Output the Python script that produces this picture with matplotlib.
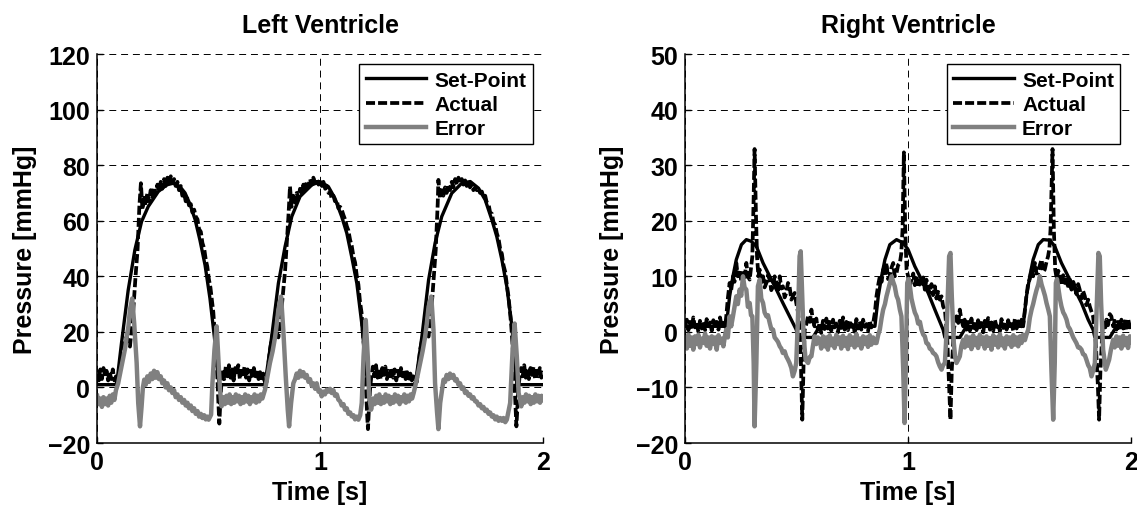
import numpy as np
from matplotlib import pyplot as plt

plt.rcParams['font.family'] = ['Liberation Sans', 'DejaVu Sans']
plt.rcParams['font.weight'] = 'bold'
plt.rcParams['lines.scale_dashes'] = False

# time [s], pressure [mmHg]
lv_setpoint = [
    (0.000, 1.0), (0.087, 1.0), (0.109, 16.0), (0.139, 35.0), (0.169, 49.5), (0.199, 59.7), (0.229, 65.1),
    (0.274, 70.5), (0.312, 72.9), (0.341, 73.5), (0.371, 72.3), (0.394, 70.0), (0.416, 66.0), (0.439, 60.5),
    (0.461, 53.0), (0.484, 44.0), (0.506, 32.0), (0.526, 18.0), (0.539, 7.0), (0.547, 1.0),
    (0.753, 1.0), (0.783, 18.3), (0.813, 37.5), (0.843, 50.7), (0.873, 61.5), (0.910, 68.7), (0.963, 72.9),
    (1.000, 74.1), (1.037, 72.3), (1.067, 68.0), (1.097, 61.5), (1.120, 55.5), (1.142, 47.0), (1.165, 37.5),
    (1.187, 23.1), (1.202, 10.0), (1.214, 1.0),
    (1.427, 1.0), (1.457, 18.3), (1.487, 38.7), (1.516, 51.9), (1.546, 61.5), (1.591, 69.9), (1.636, 73.5),
    (1.674, 74.1), (1.711, 71.7), (1.741, 67.5), (1.771, 60.3), (1.793, 54.3), (1.816, 45.9), (1.838, 36.3),
    (1.861, 21.9), (1.873, 10.0), (1.883, 1.0), (2.000, 1.0),
]

lv_actual = [
    (0.000, 5.0), (0.007, 2.5), (0.014, 6.5), (0.021, 3.0), (0.028, 7.0), (0.035, 4.0), (0.042, 6.0),
    (0.049, 2.5), (0.056, 5.5), (0.063, 3.0), (0.070, 6.5), (0.077, 2.5), (0.084, 4.0), (0.090, 1.5),
    (0.100, 6.0), (0.109, 11.0), (0.120, 15.0), (0.132, 18.3), (0.140, 16.0), (0.147, 14.7), (0.155, 22.0),
    (0.162, 28.0), (0.172, 40.0), (0.181, 49.5), (0.189, 65.0), (0.196, 73.5),
    (0.203, 64.0), (0.210, 69.0), (0.217, 65.5), (0.225, 70.0), (0.232, 67.0), (0.240, 71.0), (0.247, 68.5),
    (0.255, 72.0), (0.262, 69.5), (0.270, 73.0), (0.277, 70.5), (0.285, 74.0), (0.292, 71.5), (0.300, 75.0),
    (0.307, 72.5), (0.315, 75.5), (0.322, 73.0), (0.330, 76.0), (0.337, 73.5), (0.345, 75.0), (0.352, 72.5),
    (0.360, 74.0), (0.367, 71.0), (0.375, 72.5), (0.382, 69.0), (0.390, 70.0), (0.397, 67.0), (0.405, 68.0),
    (0.412, 65.5), (0.420, 66.0), (0.427, 63.0), (0.435, 64.0), (0.442, 61.5), (0.450, 60.5), (0.457, 57.0),
    (0.465, 56.0), (0.472, 52.0), (0.480, 50.0), (0.487, 46.0), (0.494, 43.5), (0.501, 39.0), (0.508, 36.0),
    (0.515, 31.0), (0.521, 27.0), (0.527, 20.0), (0.533, 13.0), (0.539, 4.0), (0.544, -6.0), (0.548, -13.0),
    (0.552, -6.0), (0.557, 1.0), (0.563, 6.5),
    (0.570, 3.0), (0.577, 7.5), (0.584, 4.0), (0.591, 8.0), (0.598, 3.5), (0.605, 6.5), (0.612, 2.5),
    (0.619, 7.0), (0.626, 4.5), (0.633, 8.0), (0.640, 3.0), (0.647, 6.0), (0.654, 4.0), (0.661, 7.5),
    (0.668, 3.5), (0.675, 6.5), (0.682, 2.5), (0.689, 6.0), (0.696, 3.5), (0.703, 7.0), (0.710, 4.0),
    (0.717, 6.5), (0.724, 3.0), (0.731, 5.5), (0.738, 2.5), (0.745, 5.0), (0.752, 2.0), (0.760, 2.0),
    (0.768, 8.0), (0.775, 13.5), (0.787, 19.0), (0.798, 23.0), (0.806, 20.0), (0.813, 18.0), (0.820, 23.0),
    (0.828, 29.0), (0.843, 42.0), (0.858, 61.5), (0.865, 72.3),
    (0.872, 65.0), (0.880, 69.0), (0.888, 66.5), (0.895, 70.0), (0.903, 68.0), (0.910, 71.5), (0.918, 69.5),
    (0.925, 73.0), (0.933, 71.0), (0.940, 74.0), (0.948, 72.0), (0.955, 75.0), (0.963, 73.0), (0.970, 75.5),
    (0.978, 73.5), (0.985, 75.0), (0.993, 73.0), (1.000, 74.5), (1.008, 72.5), (1.015, 74.0), (1.023, 71.5),
    (1.030, 72.5), (1.038, 70.0), (1.045, 70.5), (1.052, 68.0), (1.060, 69.0), (1.067, 67.0), (1.075, 67.5),
    (1.082, 64.5), (1.090, 65.0), (1.097, 64.0), (1.105, 62.0), (1.112, 60.5), (1.120, 58.0), (1.127, 56.5),
    (1.135, 53.0), (1.142, 51.0), (1.150, 47.0), (1.157, 45.0), (1.165, 40.0), (1.172, 37.0), (1.179, 31.0),
    (1.186, 27.0), (1.192, 20.0), (1.198, 13.0), (1.203, 5.0), (1.208, -4.0), (1.212, -11.0), (1.215, -15.0),
    (1.219, -8.0), (1.224, -1.0), (1.230, 4.0),
    (1.237, 7.5), (1.244, 4.0), (1.251, 8.0), (1.258, 3.5), (1.265, 6.5), (1.272, 3.0), (1.279, 7.0),
    (1.286, 4.5), (1.293, 7.5), (1.300, 3.0), (1.307, 6.0), (1.314, 4.0), (1.321, 7.0), (1.328, 3.5),
    (1.335, 6.5), (1.342, 2.5), (1.349, 6.0), (1.356, 3.5), (1.363, 7.0), (1.370, 4.0), (1.377, 6.5),
    (1.384, 3.0), (1.391, 5.5), (1.398, 2.5), (1.405, 5.0), (1.412, 2.5), (1.419, 4.0), (1.427, 1.5),
    (1.434, 2.0), (1.442, 8.0), (1.449, 13.5), (1.460, 18.0), (1.471, 20.7), (1.479, 19.5), (1.487, 18.3),
    (1.495, 25.0), (1.504, 32.7), (1.519, 49.5), (1.528, 66.3), (1.531, 74.7),
    (1.538, 68.0), (1.546, 71.0), (1.553, 69.0), (1.561, 72.0), (1.568, 70.0), (1.576, 73.0), (1.583, 71.0),
    (1.591, 74.0), (1.598, 72.0), (1.606, 75.0), (1.613, 73.0), (1.621, 75.5), (1.628, 73.5), (1.636, 75.0),
    (1.643, 73.0), (1.651, 74.5), (1.658, 72.5), (1.666, 74.0), (1.673, 72.0), (1.681, 73.0), (1.688, 71.0),
    (1.696, 72.0), (1.703, 71.0), (1.711, 71.5), (1.718, 70.0), (1.726, 70.5), (1.733, 68.5), (1.741, 69.0),
    (1.748, 66.5), (1.756, 66.0), (1.763, 63.0), (1.771, 62.5), (1.778, 59.5), (1.786, 58.5), (1.793, 55.5),
    (1.801, 53.5), (1.808, 50.0), (1.816, 48.0), (1.823, 44.0), (1.831, 41.5), (1.838, 37.0), (1.845, 33.0),
    (1.852, 27.5), (1.858, 22.0), (1.864, 15.0), (1.869, 8.0), (1.874, -1.0), (1.878, -9.0), (1.881, -14.0),
    (1.885, -8.0), (1.889, -1.0), (1.895, 3.5),
    (1.902, 7.0), (1.909, 4.0), (1.916, 8.0), (1.923, 3.5), (1.930, 6.5), (1.937, 3.0), (1.944, 7.0),
    (1.951, 4.5), (1.958, 7.5), (1.965, 3.0), (1.972, 6.0), (1.979, 4.0), (1.986, 7.0), (1.993, 3.5),
    (2.000, 6.0),
]

lv_error = [
    (0.000, -3.0), (0.007, -6.0), (0.014, -4.0), (0.021, -7.0), (0.028, -3.5), (0.035, -6.0), (0.042, -4.0),
    (0.049, -6.5), (0.056, -3.0), (0.063, -5.5), (0.070, -2.5), (0.077, -4.5), (0.084, -1.0), (0.094, 1.5),
    (0.105, 6.0), (0.117, 11.0), (0.125, 14.0), (0.132, 18.0), (0.140, 22.0), (0.147, 28.0), (0.157, 32.0),
    (0.166, 23.0), (0.177, 8.8), (0.184, -5.6), (0.192, -14.0), (0.199, -7.0), (0.205, 0.0), (0.211, 2.8),
    (0.218, 1.0), (0.225, 4.0), (0.232, 2.0), (0.240, 5.0), (0.247, 3.0), (0.255, 6.0), (0.262, 3.5),
    (0.270, 5.5), (0.277, 3.0), (0.285, 4.0), (0.292, 1.5), (0.300, 2.5), (0.307, 0.0), (0.315, 1.5),
    (0.322, -1.0), (0.330, 0.0), (0.337, -2.0), (0.345, -1.0), (0.352, -3.5), (0.360, -2.5), (0.367, -4.5),
    (0.375, -3.5), (0.382, -5.5), (0.390, -4.5), (0.397, -6.5), (0.405, -5.5), (0.412, -7.5), (0.420, -6.5),
    (0.427, -8.5), (0.435, -7.5), (0.442, -9.5), (0.450, -8.5), (0.457, -10.5), (0.465, -9.5), (0.472, -11.0),
    (0.480, -10.0), (0.487, -11.5), (0.494, -10.5), (0.500, -11.6), (0.511, -9.8), (0.517, 1.5), (0.526, 13.5),
    (0.536, 22.0), (0.543, 11.0), (0.551, -0.8), (0.558, -6.8), (0.565, -3.5),
    (0.573, -6.0), (0.580, -3.0), (0.587, -5.5), (0.594, -2.5), (0.601, -6.0), (0.608, -3.5), (0.615, -5.5),
    (0.622, -2.5), (0.629, -5.0), (0.636, -3.0), (0.643, -6.0), (0.650, -3.5), (0.657, -5.5), (0.664, -2.5),
    (0.671, -5.0), (0.678, -3.0), (0.685, -6.0), (0.692, -3.5), (0.699, -5.0), (0.706, -2.5), (0.713, -5.5),
    (0.720, -3.0), (0.727, -5.0), (0.734, -2.5), (0.741, -4.0), (0.753, -0.8), (0.764, 4.0), (0.775, 8.8),
    (0.787, 13.0), (0.798, 18.0), (0.806, 23.0), (0.813, 28.0), (0.825, 32.7), (0.835, 20.7), (0.846, 4.0),
    (0.855, -8.0), (0.861, -14.0), (0.870, -5.6), (0.880, 1.5), (0.888, 3.0), (0.895, 5.0), (0.903, 3.5),
    (0.910, 6.0), (0.918, 4.0), (0.925, 5.5), (0.933, 3.5), (0.940, 4.5), (0.948, 2.0), (0.955, 3.0),
    (0.963, 0.5), (0.970, 1.5), (0.978, -0.5), (0.985, 1.5), (0.993, -1.5), (1.000, -1.0), (1.007, -3.2),
    (1.015, -1.5), (1.022, -2.5), (1.030, -0.8), (1.037, -1.5), (1.045, -0.5), (1.052, -2.0), (1.060, -1.0),
    (1.067, -3.0), (1.075, -2.5), (1.082, -4.4), (1.090, -5.0), (1.097, -6.5), (1.105, -6.0), (1.112, -8.0),
    (1.120, -7.5), (1.127, -9.5), (1.135, -9.0), (1.142, -10.4), (1.150, -10.0), (1.157, -11.5),
    (1.165, -10.5), (1.172, -11.6), (1.180, -10.0), (1.187, -5.6), (1.195, 11.0), (1.205, 24.3),
    (1.214, 11.0), (1.220, -3.2), (1.229, -8.0), (1.238, -4.0),
    (1.245, -6.0), (1.252, -3.0), (1.259, -5.5), (1.266, -2.5), (1.273, -6.0), (1.280, -3.5), (1.287, -5.5),
    (1.294, -2.5), (1.301, -5.0), (1.308, -3.0), (1.315, -6.0), (1.322, -3.5), (1.329, -5.5), (1.336, -2.5),
    (1.343, -5.0), (1.350, -3.0), (1.357, -6.0), (1.364, -3.5), (1.371, -5.0), (1.378, -2.5), (1.385, -5.5),
    (1.392, -3.0), (1.399, -5.0), (1.406, -2.5), (1.413, -4.0), (1.420, -2.0), (1.427, 0.4), (1.438, 4.5),
    (1.449, 8.8), (1.460, 13.0), (1.471, 18.0), (1.479, 23.0), (1.487, 29.0), (1.499, 32.7), (1.509, 20.7),
    (1.516, 1.5), (1.525, -9.0), (1.531, -15.0), (1.539, -5.6), (1.554, 2.8), (1.561, 2.0), (1.568, 4.5),
    (1.576, 3.0), (1.583, 5.0), (1.591, 3.5), (1.598, 4.5), (1.606, 2.5), (1.613, 3.0), (1.621, 1.0),
    (1.628, 1.5), (1.636, -0.5), (1.643, 0.0), (1.651, -2.0), (1.658, -1.5), (1.666, -3.0), (1.673, -2.5),
    (1.681, -4.0), (1.688, -3.5), (1.696, -5.0), (1.703, -5.0), (1.711, -6.5), (1.718, -6.0), (1.726, -7.5),
    (1.733, -7.0), (1.741, -8.5), (1.748, -8.0), (1.756, -9.5), (1.763, -9.0), (1.771, -10.5),
    (1.778, -10.0), (1.786, -11.5), (1.793, -10.5), (1.801, -12.0), (1.808, -11.0), (1.816, -12.0),
    (1.823, -11.0), (1.831, -12.5), (1.838, -11.6), (1.853, -5.6), (1.864, 13.5), (1.873, 23.0),
    (1.883, 11.0), (1.891, -2.0), (1.903, -6.8), (1.910, -3.5),
    (1.917, -5.5), (1.924, -2.5), (1.931, -5.0), (1.938, -3.0), (1.945, -6.0), (1.952, -3.5), (1.959, -5.5),
    (1.966, -2.5), (1.973, -5.0), (1.980, -3.0), (1.987, -5.5), (1.994, -3.0), (2.000, -4.5),
]

rv_setpoint = [
    (0.000, 1.0), (0.185, 1.0), (0.200, 6.4), (0.215, 10.0), (0.230, 13.0), (0.253, 15.7), (0.275, 16.6),
    (0.297, 16.3), (0.320, 15.4), (0.350, 12.4), (0.380, 10.0), (0.410, 7.6), (0.439, 5.2), (0.469, 2.8),
    (0.499, 0.4), (0.507, -1.0), (0.574, -1.0), (0.604, 1.0),
    (0.852, 1.0), (0.867, 6.4), (0.882, 10.0), (0.897, 13.0), (0.919, 15.7), (0.949, 16.6), (0.979, 16.0),
    (1.001, 14.8), (1.031, 11.8), (1.061, 9.4), (1.091, 7.0), (1.121, 4.0), (1.158, 0.4), (1.166, -1.0),
    (1.233, -1.0), (1.263, 1.0),
    (1.517, 1.0), (1.532, 6.4), (1.547, 10.0), (1.562, 13.0), (1.585, 15.7), (1.607, 16.6), (1.637, 16.5),
    (1.659, 15.4), (1.689, 12.4), (1.719, 10.0), (1.749, 7.6), (1.779, 5.2), (1.809, 2.2), (1.831, 0.4),
    (1.839, -1.0), (1.906, -1.0), (1.936, 1.0), (2.000, 1.0),
]

rv_actual = [
    (0.000, 1.0), (0.008, 2.2), (0.015, 0.3), (0.022, 1.8), (0.030, 0.5), (0.037, 2.6), (0.045, 0.8),
    (0.052, 1.6), (0.060, 0.0), (0.067, 2.0), (0.075, 0.6), (0.082, 1.9), (0.090, 0.3), (0.097, 2.3),
    (0.105, 1.0), (0.112, 1.7), (0.120, 0.2), (0.127, 2.1), (0.135, 0.6), (0.142, 1.8), (0.150, 0.4),
    (0.157, 2.6), (0.165, 0.8), (0.172, 1.6), (0.180, 0.9),
    (0.185, 2.8), (0.192, 6.0), (0.200, 8.8), (0.207, 7.5), (0.215, 10.0), (0.222, 9.0), (0.230, 12.4),
    (0.237, 10.0), (0.245, 11.2), (0.252, 9.2), (0.260, 10.6), (0.267, 9.5), (0.275, 12.4), (0.282, 10.0),
    (0.290, 9.4), (0.296, 11.5), (0.302, 13.6), (0.308, 24.4), (0.312, 32.9), (0.318, 21.4), (0.323, 13.6),
    (0.329, 10.0), (0.335, 11.2), (0.342, 9.0), (0.350, 10.0), (0.357, 8.0), (0.365, 8.8), (0.372, 10.2),
    (0.380, 9.4), (0.387, 7.5), (0.395, 8.2), (0.402, 10.0), (0.410, 8.8), (0.417, 7.2), (0.425, 10.0),
    (0.432, 7.8), (0.439, 8.2), (0.447, 6.2), (0.454, 7.0), (0.462, 8.8), (0.469, 8.2), (0.477, 5.8),
    (0.484, 6.4), (0.492, 7.0), (0.499, 5.2), (0.507, 3.5), (0.514, 0.4), (0.520, -5.6), (0.526, -15.8),
    (0.532, -5.6), (0.537, 0.4), (0.545, 1.5), (0.552, 2.8), (0.560, 1.8), (0.567, 4.0), (0.574, 2.0),
    (0.581, 1.0), (0.589, 2.4), (0.596, 0.4),
    (0.604, 1.6), (0.611, -0.2), (0.619, 2.0), (0.626, 0.5), (0.634, 2.4), (0.641, 0.6), (0.649, 1.8),
    (0.656, 0.2), (0.664, 2.2), (0.671, 0.8), (0.679, 1.5), (0.686, -0.1), (0.694, 2.0), (0.701, 0.7),
    (0.709, 2.6), (0.716, 0.4), (0.724, 1.8), (0.731, 0.3), (0.739, 2.1), (0.746, 0.9), (0.754, 1.6),
    (0.761, 0.0), (0.769, 2.3), (0.776, 0.6), (0.784, 1.9), (0.791, 0.4), (0.799, 2.2), (0.806, 0.9),
    (0.814, 1.4), (0.821, 0.1), (0.829, 2.0), (0.836, 0.8), (0.844, 1.5),
    (0.852, 3.5), (0.859, 6.4), (0.867, 8.5), (0.874, 10.0), (0.882, 9.0), (0.889, 11.2), (0.897, 10.2),
    (0.904, 12.4), (0.911, 9.5), (0.919, 10.0), (0.926, 11.5), (0.934, 12.4), (0.941, 10.0), (0.949, 10.6),
    (0.956, 12.0), (0.964, 12.4), (0.970, 14.0), (0.976, 18.4), (0.982, 32.3), (0.988, 18.4), (0.994, 11.2),
    (1.001, 10.0), (1.008, 8.2), (1.016, 9.4), (1.024, 10.5), (1.031, 8.4), (1.039, 10.0), (1.046, 8.0),
    (1.054, 9.2), (1.061, 8.2), (1.069, 9.8), (1.076, 7.6), (1.083, 9.4), (1.091, 7.8), (1.098, 7.0),
    (1.106, 8.6), (1.113, 6.6), (1.121, 8.2), (1.128, 6.0), (1.136, 7.2), (1.143, 5.8), (1.151, 6.4),
    (1.158, 4.6), (1.166, 4.0), (1.171, 1.5), (1.176, -0.8), (1.184, -8.6), (1.191, -15.8), (1.197, -6.8),
    (1.206, 0.4), (1.212, 1.8), (1.218, 2.8), (1.226, 1.6), (1.233, 4.0), (1.240, 2.2), (1.248, 1.0),
    (1.255, 2.2), (1.263, 0.4), (1.270, 1.8), (1.278, 0.2), (1.285, 2.4), (1.293, 0.7), (1.300, 1.9),
    (1.308, 0.3), (1.315, 2.1), (1.323, 0.8), (1.330, 1.6), (1.338, -0.1), (1.345, 2.0), (1.353, 0.6),
    (1.360, 2.5), (1.368, 0.4), (1.375, 1.7), (1.383, 0.2), (1.390, 2.2), (1.398, 0.9), (1.405, 1.5),
    (1.413, 0.1), (1.420, 2.3), (1.428, 0.7), (1.435, 1.8), (1.443, 0.4), (1.450, 2.1), (1.458, 0.8),
    (1.465, 1.4), (1.473, 0.2), (1.480, 2.4), (1.488, 0.6), (1.495, 1.9), (1.503, 0.5), (1.510, 2.2),
    (1.517, 1.0),
    (1.525, 4.0), (1.532, 6.5), (1.540, 8.8), (1.547, 9.5), (1.555, 11.2), (1.562, 10.0), (1.570, 12.4),
    (1.577, 10.5), (1.585, 10.6), (1.592, 12.0), (1.600, 13.0), (1.607, 10.8), (1.614, 11.2), (1.622, 12.6),
    (1.629, 13.6), (1.635, 15.0), (1.640, 18.4), (1.649, 32.9), (1.655, 18.4), (1.661, 11.2), (1.668, 9.5),
    (1.675, 11.0), (1.682, 10.0), (1.689, 8.4), (1.697, 10.2), (1.704, 8.8), (1.712, 10.0), (1.719, 7.8),
    (1.727, 9.4), (1.734, 7.6), (1.742, 9.0), (1.749, 8.2), (1.756, 6.8), (1.764, 8.6), (1.771, 7.6),
    (1.779, 6.0), (1.786, 7.4), (1.794, 6.4), (1.801, 4.8), (1.809, 5.8), (1.816, 4.6), (1.824, 3.6),
    (1.831, 2.8), (1.837, 0.5), (1.843, -2.0), (1.852, -9.2), (1.858, -15.8), (1.864, -6.8), (1.873, 0.4),
    (1.880, 1.6), (1.886, 0.8), (1.891, 2.2), (1.898, 1.2), (1.906, 3.2), (1.913, 2.8), (1.921, 1.0),
    (1.928, 2.0), (1.936, 0.4),
    (1.943, 1.8), (1.951, 0.3), (1.958, 2.2), (1.966, 0.6), (1.973, 1.9), (1.981, 0.2), (1.988, 2.4),
    (1.996, 0.8), (2.000, 1.5),
]

rv_error = [
    (0.000, -1.0), (0.008, -3.0), (0.015, -0.5), (0.022, -2.5), (0.030, -1.0), (0.037, -3.2), (0.045, -0.8),
    (0.052, -2.2), (0.060, -0.5), (0.067, -2.8), (0.075, -1.2), (0.082, -2.0), (0.090, -0.3), (0.097, -2.5),
    (0.105, -1.0), (0.112, -3.0), (0.120, -0.8), (0.127, -2.2), (0.135, -1.0), (0.142, -3.2), (0.150, -0.6),
    (0.157, -2.0), (0.165, -1.2), (0.172, -2.6), (0.180, -0.5),
    (0.185, 0.4), (0.192, -1.0), (0.200, 2.8), (0.207, 1.0), (0.215, 2.8), (0.222, 4.5), (0.230, 6.4),
    (0.237, 5.0), (0.245, 7.6), (0.252, 6.5), (0.260, 10.0), (0.267, 8.0), (0.275, 7.6), (0.282, 4.5),
    (0.290, 5.2), (0.296, 3.0), (0.302, 2.8), (0.308, -5.6), (0.312, -17.0), (0.320, -5.6), (0.327, 8.2),
    (0.335, 9.4), (0.342, 6.0), (0.350, 5.2), (0.357, 3.5), (0.365, 2.8), (0.372, 3.0), (0.380, 1.6),
    (0.387, 0.5), (0.395, 0.4), (0.402, -1.0), (0.410, -1.4), (0.417, -1.8), (0.425, -2.6), (0.432, -3.0),
    (0.439, -3.8), (0.447, -3.5), (0.454, -4.4), (0.462, -5.0), (0.469, -5.6), (0.477, -6.5), (0.484, -8.0),
    (0.492, -7.0), (0.499, -5.6), (0.507, 2.8), (0.514, 13.6), (0.519, 14.5), (0.525, 7.6), (0.532, -0.8),
    (0.541, -5.0), (0.552, -5.6), (0.560, -4.5), (0.567, -4.4), (0.574, -2.5), (0.581, -0.8), (0.589, -2.2),
    (0.596, -1.0),
    (0.604, -1.4), (0.611, -3.0), (0.619, -0.8), (0.626, -2.6), (0.634, -1.0), (0.641, -3.2), (0.649, -0.6),
    (0.656, -2.4), (0.664, -1.2), (0.671, -2.9), (0.679, -0.5), (0.686, -2.2), (0.694, -1.0), (0.701, -3.0),
    (0.709, -0.7), (0.716, -2.5), (0.724, -1.1), (0.731, -3.1), (0.739, -0.6), (0.746, -2.3), (0.754, -1.0),
    (0.761, -2.8), (0.769, -0.4), (0.776, -2.4), (0.784, -1.2), (0.791, -3.0), (0.799, -0.8), (0.806, -2.2),
    (0.814, -1.0), (0.821, -2.7), (0.829, -0.6), (0.836, -2.3), (0.844, -1.0), (0.852, -2.0),
    (0.859, -2.0), (0.867, -0.5), (0.874, 0.4), (0.882, 2.5), (0.889, 4.0), (0.897, 5.0), (0.904, 6.4),
    (0.911, 7.5), (0.919, 8.8), (0.927, 10.0), (0.934, 9.0), (0.941, 8.2), (0.949, 6.5), (0.956, 5.8),
    (0.964, 4.0), (0.971, 2.8), (0.979, -6.8), (0.985, -16.4), (0.991, -5.6), (0.997, 8.8), (1.003, 9.5),
    (1.009, 8.2), (1.016, 6.0), (1.024, 4.6), (1.031, 3.5), (1.039, 2.8), (1.046, 1.5), (1.054, 1.8),
    (1.061, 0.4), (1.069, -0.5), (1.076, -0.8), (1.083, -2.0), (1.091, -2.2), (1.098, -3.0), (1.106, -3.2),
    (1.113, -3.8), (1.121, -4.0), (1.128, -4.4), (1.136, -5.5), (1.143, -6.2), (1.151, -6.8), (1.158, -6.0),
    (1.166, -5.6), (1.171, -2.0), (1.176, 2.8), (1.185, 13.6), (1.191, 14.2), (1.197, 6.4), (1.206, -2.0),
    (1.212, -4.5), (1.218, -5.6), (1.226, -5.0), (1.233, -4.4), (1.240, -2.5), (1.248, -1.4),
    (1.255, -2.8), (1.263, -0.8), (1.270, -2.5), (1.278, -1.0), (1.285, -3.1), (1.293, -0.6), (1.300, -2.4),
    (1.308, -1.1), (1.315, -2.9), (1.323, -0.5), (1.330, -2.2), (1.338, -1.0), (1.345, -3.0), (1.353, -0.8),
    (1.360, -2.5), (1.368, -1.1), (1.375, -3.2), (1.383, -0.6), (1.390, -2.3), (1.398, -1.0), (1.405, -2.8),
    (1.413, -0.4), (1.420, -2.4), (1.428, -1.2), (1.435, -3.0), (1.443, -0.8), (1.450, -2.2), (1.458, -1.0),
    (1.465, -2.7), (1.473, -0.6), (1.480, -2.3), (1.488, -1.0), (1.495, -2.6), (1.503, -0.8), (1.510, -2.0),
    (1.517, -0.5), (1.525, -1.5), (1.532, -0.5),
    (1.540, 0.4), (1.547, 2.5), (1.555, 4.0), (1.562, 5.0), (1.570, 6.4), (1.577, 7.5), (1.585, 8.5),
    (1.592, 10.0), (1.600, 8.5), (1.607, 7.6), (1.615, 6.5), (1.622, 5.2), (1.630, 4.0), (1.637, 2.8),
    (1.644, -6.8), (1.652, -15.8), (1.659, -5.6), (1.664, 8.8), (1.669, 9.5), (1.674, 8.2), (1.682, 6.0),
    (1.689, 4.6), (1.697, 3.5), (1.704, 3.0), (1.712, 2.2), (1.719, 1.0), (1.727, 0.5), (1.734, -0.2),
    (1.742, -1.0), (1.749, -1.5), (1.756, -2.0), (1.764, -2.8), (1.771, -2.8), (1.779, -3.2), (1.786, -4.0),
    (1.794, -4.2), (1.801, -5.0), (1.809, -6.0), (1.816, -6.5), (1.824, -8.0), (1.831, -7.0), (1.839, -5.6),
    (1.846, 2.8), (1.855, 14.2), (1.861, 13.6), (1.867, 5.2), (1.876, -3.2), (1.888, -6.8), (1.895, -6.0),
    (1.903, -5.0), (1.912, -3.0), (1.921, -1.4),
    (1.928, -2.8), (1.936, -0.8), (1.943, -2.5), (1.951, -1.0), (1.958, -3.0), (1.966, -0.7), (1.973, -2.4),
    (1.981, -1.1), (1.988, -2.9), (1.996, -0.8), (2.000, -1.8),
]


def draw_panel(ax, title, setpoint, actual, error, ylim, yticks):
    sp = np.array(setpoint)
    ac = np.array(actual)
    er = np.array(error)
    ax.plot(sp[:, 0], sp[:, 1], color='k', lw=2.4, label='Set-Point')
    ax.plot(ac[:, 0], ac[:, 1], color='k', lw=2.7, linestyle=(0, (6.5, 2.2)), label='Actual')
    ax.plot(er[:, 0], er[:, 1], color='#808080', lw=3.2, label='Error')

    ax.set_xlim(0, 2)
    ax.set_ylim(*ylim)
    ax.set_xticks([0, 1, 2])
    ax.set_yticks(yticks)
    ax.grid(True, color='k', linestyle=(0, (5, 3.5)), linewidth=0.7)
    ax.set_axisbelow(True)
    for side in ['top', 'right']:
        ax.spines[side].set_visible(False)
    for side in ['left', 'bottom']:
        ax.spines[side].set_linewidth(1.1)
    ax.tick_params(labelsize=18, direction='in', length=4, width=1, pad=5)

    ax.set_title(title, fontsize=18, fontweight='bold', pad=16)
    ax.set_xlabel('Time [s]', fontsize=18, fontweight='bold', labelpad=4)
    ax.set_ylabel('Pressure [mmHg]', fontsize=18, fontweight='bold', labelpad=8)

    leg = ax.legend(loc='upper right', fontsize=15, fancybox=False, framealpha=1,
                    edgecolor='k', handlelength=2.9, labelspacing=0.25, borderpad=0.3,
                    borderaxespad=0.5, handletextpad=0.4)
    leg.get_frame().set_linewidth(1.0)


fig = plt.figure(figsize=(11.37, 5.06), dpi=100)
ax1 = fig.add_axes([0.0855, 0.1225, 0.392, 0.7688])
ax2 = fig.add_axes([0.6025, 0.1225, 0.392, 0.7688])

draw_panel(ax1, 'Left Ventricle', lv_setpoint, lv_actual, lv_error, (-20, 120), range(-20, 121, 20))
draw_panel(ax2, 'Right Ventricle', rv_setpoint, rv_actual, rv_error, (-20, 50), range(-20, 51, 10))

fig.savefig('out.png', dpi=100)
